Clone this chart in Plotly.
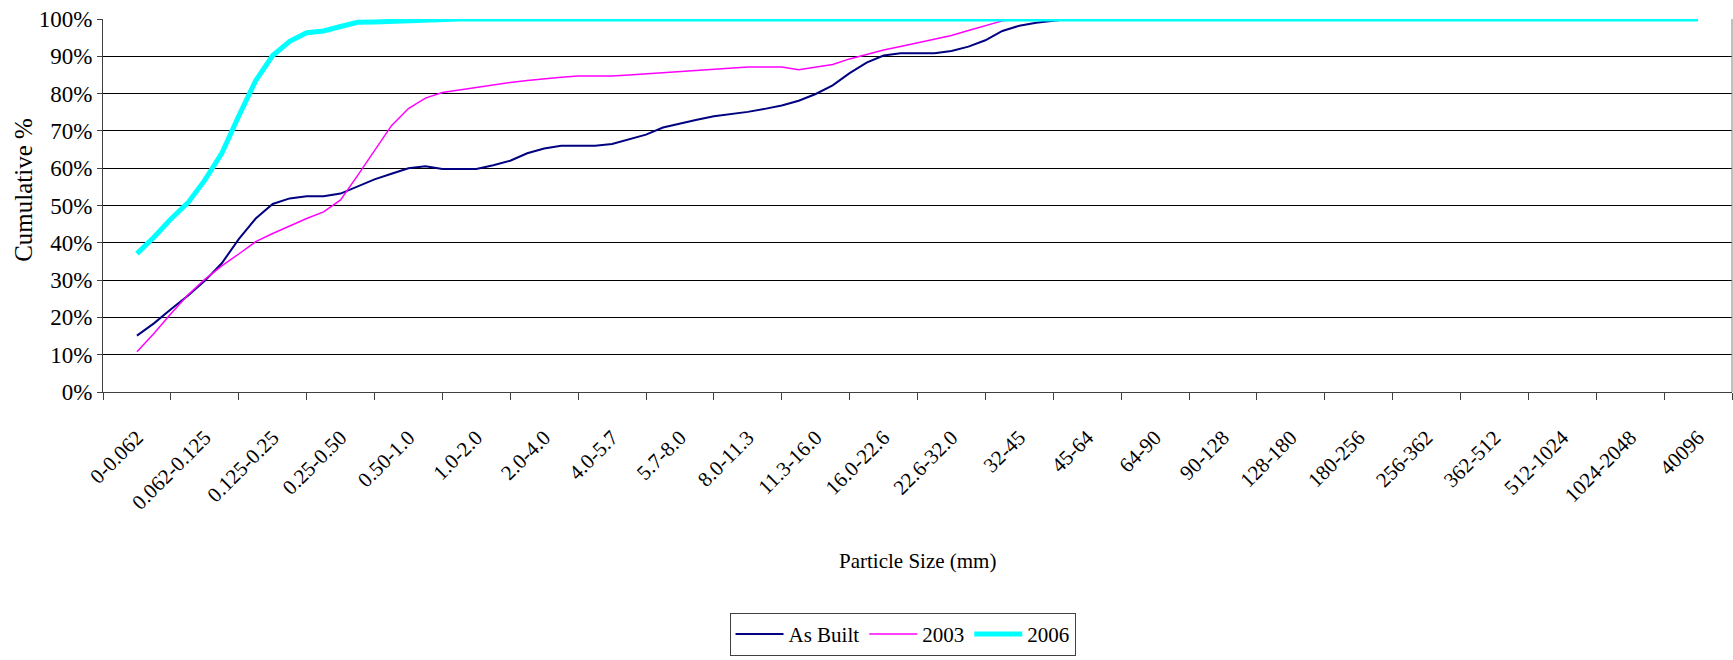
import plotly.graph_objects as go

# Size classes (mm) shown on the x axis
size_classes = [
    "0-0.062", "0.062-0.125", "0.125-0.25", "0.25-0.50", "0.50-1.0", "1.0-2.0",
    "2.0-4.0", "4.0-5.7", "5.7-8.0", "8.0-11.3", "11.3-16.0", "16.0-22.6",
    "22.6-32.0", "32-45", "45-64", "64-90", "90-128", "128-180", "180-256",
    "256-362", "362-512", "512-1024", "1024-2048", "40096",
]

# Cumulative percent, sampled four times per size class
as_built = [
    15.1, 18.4, 22.2, 25.8, 29.8, 34.5, 41.0, 46.5, 50.4, 51.9, 52.5, 52.5,
    53.2, 55.2, 57.0, 58.5, 60.0, 60.5, 59.8, 59.8, 59.8, 60.8, 62.0, 64.0,
    65.3, 66.0, 66.0, 66.0, 66.5, 67.8, 69.0, 70.9, 72.0, 73.0, 73.9, 74.5,
    75.1, 75.9, 76.8, 78.1, 79.9, 82.2, 85.5, 88.3, 90.2, 90.8, 90.8, 90.8,
    91.4, 92.6, 94.3, 96.8, 98.2, 99.0, 99.5, 100, 100, 100, 100, 100,
    100, 100, 100, 100, 100, 100, 100, 100, 100, 100, 100, 100,
    100, 100, 100, 100, 100, 100, 100, 100, 100, 100, 100, 100,
    100, 100, 100, 100, 100, 100, 100, 100, 100,
]

survey_2003 = [
    10.8, 15.7, 21.0, 26.0, 30.2, 33.8, 37.0, 40.3, 42.5, 44.6, 46.5, 48.3,
    51.5, 58.0, 64.8, 71.4, 76.0, 78.8, 80.3, 81.0, 81.6, 82.3, 83.0, 83.5,
    84.0, 84.4, 84.7, 84.7, 84.7, 85.0, 85.3, 85.6, 85.8, 86.1, 86.4, 86.8,
    87.1, 87.1, 87.1, 86.4, 87.1, 87.8, 89.3, 90.6, 91.7, 92.6, 93.6, 94.6,
    95.6, 96.9, 98.2, 99.5, 100, 100, 100, 100, 100, 100, 100, 100,
    100, 100, 100, 100, 100, 100, 100, 100, 100, 100, 100, 100,
    100, 100, 100, 100, 100, 100, 100, 100, 100, 100, 100, 100,
    100, 100, 100, 100, 100, 100, 100, 100, 100,
]

survey_2006 = [
    37.1, 41.5, 46.4, 50.7, 56.8, 64.0, 74.0, 83.5, 90.2, 94.0, 96.3, 96.8,
    98.0, 99.1, 99.2, 99.4, 99.6, 99.8, 100, 100, 100, 100, 100, 100,
    100, 100, 100, 100, 100, 100, 100, 100, 100, 100, 100, 100,
    100, 100, 100, 100, 100, 100, 100, 100, 100, 100, 100, 100,
    100, 100, 100, 100, 100, 100, 100, 100, 100, 100, 100, 100,
    100, 100, 100, 100, 100, 100, 100, 100, 100, 100, 100, 100,
    100, 100, 100, 100, 100, 100, 100, 100, 100, 100, 100, 100,
    100, 100, 100, 100, 100, 100, 100, 100, 100,
]

series_names = ["As Built", "2003", "2006"]
series_colors = ["#000080", "#FF00FF", "#00FFFF"]
series_widths = [2, 1.5, 5]

SAMPLES_PER_CLASS = 4
FONT = "Liberation Serif, Times New Roman, serif"

fig = go.Figure()
for name, values, color, width in zip(series_names, [as_built, survey_2003, survey_2006],
                                      series_colors, series_widths):
    xs = [i / SAMPLES_PER_CLASS for i in range(len(values))]
    fig.add_trace(go.Scatter(x=xs, y=values, mode="lines", name=name,
                             line=dict(color=color, width=width)))

n_classes = len(size_classes)
class_centres = list(range(n_classes))
class_bounds = [i - 0.5 for i in range(n_classes + 1)]

fig.update_layout(
    width=1733, height=660,
    margin=dict(l=103, r=1, t=19, b=268),
    paper_bgcolor="white", plot_bgcolor="white",
    font=dict(family=FONT, color="black", size=21),
    showlegend=True,
    legend=dict(
        orientation="h", x=0.3846, xanchor="left", y=-0.592, yanchor="top",
        bordercolor="#404040", borderwidth=1, font=dict(size=21, family=FONT),
        bgcolor="white", itemwidth=48,
    ),
    xaxis=dict(
        range=[-0.5, n_classes - 0.5],
        tickmode="array", tickvals=class_centres, ticktext=size_classes,
        tickangle=-45, ticks="", tickfont=dict(size=21, family=FONT),
        ticklabelstandoff=24,
        showgrid=False, zeroline=False,
        showline=True, linecolor="#404040", linewidth=1,
        minor=dict(tickmode="array", tickvals=class_bounds, ticks="outside",
                   ticklen=7, tickcolor="#404040", tickwidth=1, showgrid=False),
    ),
    yaxis=dict(
        range=[0, 100], tickmode="linear", dtick=10, ticksuffix="%",
        tickfont=dict(size=23, family=FONT),
        showgrid=True, gridcolor="black", gridwidth=1,
        zeroline=False, showline=True, linecolor="#404040", linewidth=1,
        ticks="outside", ticklen=5, tickcolor="#404040",
    ),
    annotations=[
        dict(text="Cumulative %", textangle=-90, xref="paper", yref="paper",
             x=-0.0485, y=0.542, xanchor="center", yanchor="middle",
             showarrow=False, font=dict(size=25, family=FONT)),
        dict(text="Particle Size (mm)", xref="paper", yref="paper",
             x=0.5, y=-0.4526, xanchor="center", yanchor="middle",
             showarrow=False, font=dict(size=21, family=FONT)),
    ],
    shapes=[
        dict(type="line", xref="paper", yref="paper", x0=1, x1=1, y0=0, y1=1,
             line=dict(color="#808080", width=1)),
    ],
)

fig.write_html("out.html")
